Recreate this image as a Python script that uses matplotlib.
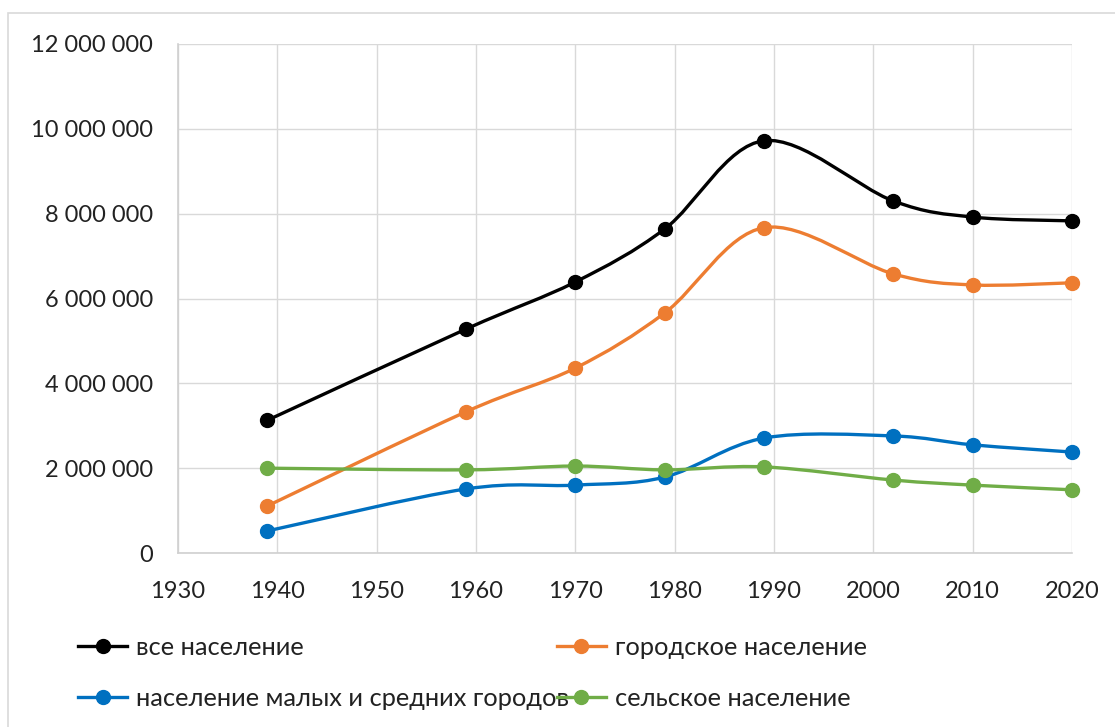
import matplotlib
matplotlib.use("Agg")
import matplotlib.pyplot as plt
from matplotlib.path import Path
from matplotlib.patches import PathPatch, Rectangle
from matplotlib.lines import Line2D
from matplotlib.ticker import FuncFormatter

plt.rcParams['font.family'] = ['Lato', 'DejaVu Sans']

years = [1939, 1959, 1970, 1979, 1989, 2002, 2010, 2020]
total = [3130000, 5280000, 6390000, 7640000, 9720000, 8300000, 7920000, 7830000]
urban = [1110000, 3330000, 4360000, 5660000, 7670000, 6580000, 6320000, 6370000]
small_towns = [520000, 1510000, 1600000, 1790000, 2710000, 2760000, 2550000, 2380000]
rural = [2000000, 1960000, 2050000, 1960000, 2030000, 1720000, 1600000, 1490000]

names = ["все население", "городское население",
         "население малых и средних городов", "сельское население"]
colors = ["#000000", "#ED7D31", "#0070C0", "#70AD47"]
series = [total, urban, small_towns, rural]


def smooth_path(xs, ys):
    # bezier through the points, like excel's "smoothed line"
    pts = list(zip(xs, ys))
    n = len(pts)
    verts = [pts[0]]
    codes = [Path.MOVETO]
    for i in range(n - 1):
        p0 = pts[i - 1] if i > 0 else pts[i]
        p1 = pts[i]
        p2 = pts[i + 1]
        p3 = pts[i + 2] if i + 2 < n else pts[i + 1]
        c1 = (p1[0] + (p2[0] - p0[0]) / 6, p1[1] + (p2[1] - p0[1]) / 6)
        c2 = (p2[0] - (p3[0] - p1[0]) / 6, p2[1] - (p3[1] - p1[1]) / 6)
        verts += [c1, c2, p2]
        codes += [Path.CURVE4] * 3
    return Path(verts, codes)


fig = plt.figure(figsize=(11.15, 7.27), dpi=100)
fig.patches.append(Rectangle((8 / 1115, -0.01), 1.1, 1 - 13 / 727 + 0.01,
                             transform=fig.transFigure, fill=False,
                             edgecolor="#d9d9d9", linewidth=1.2))
ax = fig.add_axes([178 / 1115, 1 - 553 / 727, (1072 - 178) / 1115, (553 - 44) / 727])

handles = []
for s, name, c in zip(series, names, colors):
    ax.add_patch(PathPatch(smooth_path(years, s), facecolor="none",
                           edgecolor=c, linewidth=2.4, zorder=3, clip_on=False))
    ax.plot(years, s, linestyle="none", marker="o", markersize=10,
            color=c, zorder=4, clip_on=False)
    handles.append(Line2D([], [], color=c, linewidth=2.4, marker="o",
                          markersize=10))

ax.set_xlim(1930, 2020)
ax.set_ylim(0, 12000000)
ax.set_xticks(range(1930, 2021, 10))
ax.set_yticks(range(0, 12000001, 2000000))
ax.yaxis.set_major_formatter(FuncFormatter(lambda v, p: f"{int(v):,}".replace(",", " ")))
ax.grid(True, color="#d9d9d9", linewidth=1.0)
ax.set_axisbelow(True)
for sp in ["top", "right"]:
    ax.spines[sp].set_visible(False)
for sp in ["left", "bottom"]:
    ax.spines[sp].set_color("#d0d0d0")
    ax.spines[sp].set_linewidth(1.2)
ax.tick_params(length=0, labelsize=17, colors="#222222")
ax.tick_params(axis="x", pad=20)
ax.tick_params(axis="y", pad=18)

order = [0, 2, 1, 3]
fig.legend([handles[i] for i in order], [names[i] for i in order],
           ncol=2, loc="upper left", bbox_to_anchor=(55 / 1115, 1 - 613 / 727),
           frameon=False, fontsize=18.3, handlelength=1.95, handletextpad=0.35,
           columnspacing=-0.5, labelspacing=1.11, labelcolor="#222222")

fig.savefig("out.png", dpi=100)
